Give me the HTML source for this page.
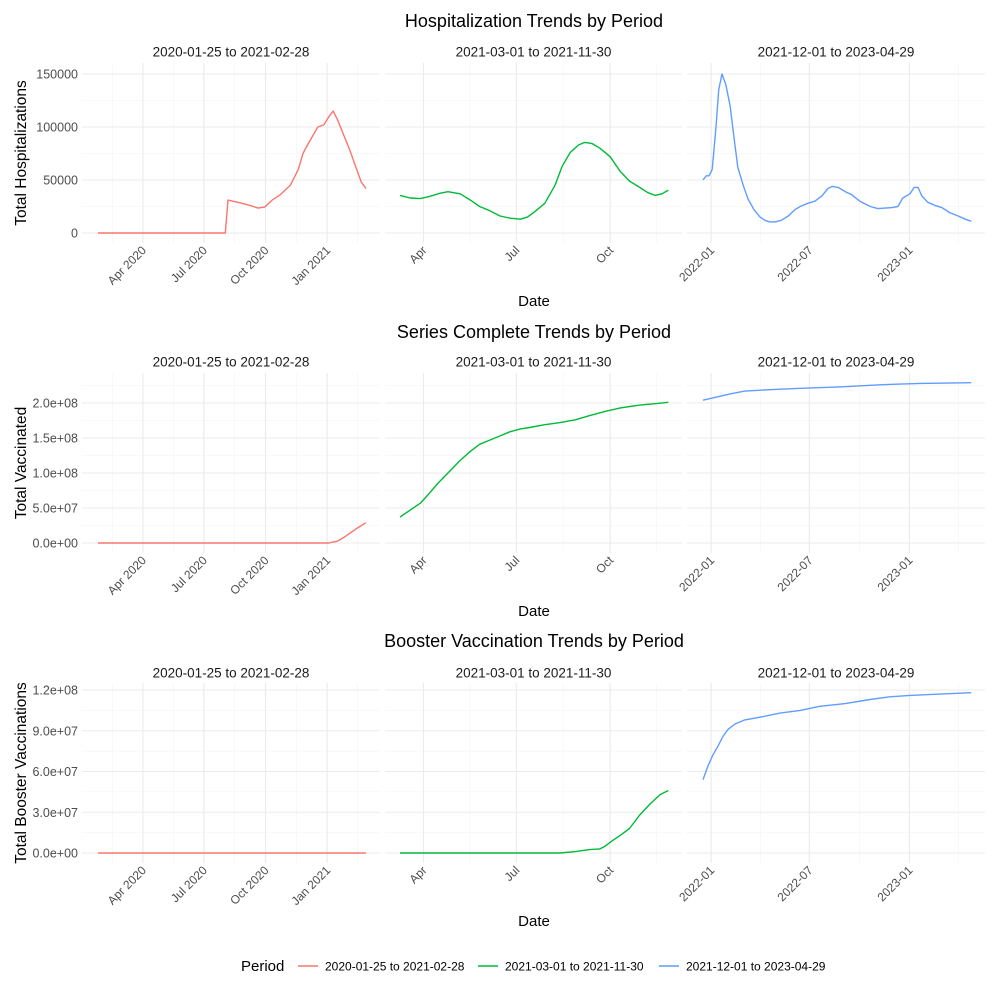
<!DOCTYPE html>
<html><head><meta charset="utf-8"><style>
body{margin:0;background:#fff;}
svg{font-family:"Liberation Sans",sans-serif;}
</style></head><body>
<svg id="chart" width="1000" height="1000" viewBox="0 0 1000 1000"></svg>
<script>
// Categories / panel periods
const periods = ["2020-01-25 to 2021-02-28","2021-03-01 to 2021-11-30","2021-12-01 to 2023-04-29"];
const rowTitles = ["Hospitalization Trends by Period","Series Complete Trends by Period","Booster Vaccination Trends by Period"];
const yTitles = ["Total Hospitalizations","Total Vaccinated","Total Booster Vaccinations"];
// x tick labels (day offsets from each panel's first data date)
const xTickDays1 = [67,158,250,342];
const xTickLabels1 = ["Apr 2020","Jul 2020","Oct 2020","Jan 2021"];
const xTickDays2 = [23,114,206];
const xTickLabels2 = ["Apr","Jul","Oct"];
const xTickDays3 = [15,196,380];
const xTickLabels3 = ["2022-01","2022-07","2023-01"];
// y ticks
const yTicksHosp = [0,50000,100000,150000];
const yLabelsHosp = ["0","50000","100000","150000"];
const yTicksVacc = [0,5e7,1e8,1.5e8,2e8];
const yLabelsVacc = ["0.0e+00","5.0e+07","1.0e+08","1.5e+08","2.0e+08"];
const yTicksBoost = [0,3e7,6e7,9e7,1.2e8];
const yLabelsBoost = ["0.0e+00","3.0e+07","6.0e+07","9.0e+07","1.2e+08"];
// Hospitalizations
const hospDays1 = [0,190,194,212,227,239,249,260,272,287,299,306,310,319,328,337,345,351,358,367,376,385,393,400];
const hospVals1 = [0,0,31000,28500,26000,23500,24500,31000,36000,45000,60000,75000,80000,90000,100000,102000,110000,115000,106000,92000,78000,62000,48000,42000];
const hospDays2 = [0,10,20,29,39,47,59,69,78,88,98,108,118,125,132,142,152,159,167,175,181,188,196,206,216,225,235,243,250,257,263];
const hospVals2 = [35500,33000,32500,34500,37500,39000,37000,31000,25000,21000,16000,14000,13000,15000,20000,28000,45000,63000,76000,83000,85500,84500,80000,72000,58000,49000,43000,38000,35500,37000,40500];
const hospDays3 = [0,6,11,17,24,29,35,42,50,57,64,74,83,94,105,114,123,133,144,157,169,179,193,206,219,230,238,249,262,274,289,308,322,335,348,359,368,381,389,396,403,414,427,440,455,470,483,494];
const hospVals3 = [50000,54000,54000,60000,100000,135000,150000,140000,120000,90000,62000,45000,32000,22000,15000,12000,10500,10500,12000,16000,22000,25000,28000,30000,35000,42000,44000,43000,39000,36000,30000,25000,23000,23500,24000,25000,33000,37000,43000,43000,35000,29000,26000,24000,19000,16000,13000,11000];
// Series complete
const vaccDays1 = [0,345,358,367,376,388,400];
const vaccVals1 = [0,0,3e6,8e6,14e6,22e6,29e6];
const vaccDays2 = [0,10,20,27,37,49,59,69,78,88,98,108,118,127,142,157,172,186,201,216,235,250,263];
const vaccVals2 = [37e6,47e6,57e6,68e6,85e6,103e6,118e6,131e6,141e6,147e6,153e6,159e6,163e6,165e6,169e6,172e6,176e6,182e6,188e6,193e6,197e6,199e6,201e6];
const vaccDays3 = [0,22,50,77,123,179,252,326,400,494];
const vaccVals3 = [204e6,208e6,213e6,217e6,219e6,221e6,223e6,226e6,228e6,229e6];
// Booster
const boostDays1 = [0,400];
const boostVals1 = [0,0];
const boostDays2 = [0,157,172,186,196,201,208,216,225,235,245,255,263];
const boostVals2 = [0,0,1e6,2.5e6,3e6,5e6,9e6,13e6,18e6,28e6,36e6,43e6,46e6];
const boostDays3 = [0,9,18,28,37,46,59,77,105,142,179,215,262,308,344,381,436,494];
const boostVals3 = [54e6,64e6,72e6,79e6,86e6,91e6,95e6,98e6,100e6,103e6,105e6,108e6,110e6,113e6,115e6,116e6,117e6,118e6];

const colors = ["#F8766D","#00BA38","#619CFF"];
const NS = "http://www.w3.org/2000/svg";
const svg = document.getElementById("chart");
function mk(tag, attrs, parent, text){
  const e = document.createElementNS(NS, tag);
  for (const k in attrs) e.setAttribute(k, attrs[k]);
  if (text !== undefined) e.textContent = text;
  (parent||svg).appendChild(e);
  return e;
}
const panelX = [[82,380],[385,682],[687,985]];
const dataX0 = [98,400,703];
const ppd = [0.67,1.02,0.543];
const xTickDays = [xTickDays1,xTickDays2,xTickDays3];
const xTickLabels = [xTickLabels1,xTickLabels2,xTickLabels3];
function xs(p, d){ return dataX0[p] + d*ppd[p]; }

const rows = [
  {top:63,bottom:243,zero:233,scale:53/50000,ticks:yTicksHosp,labels:yLabelsHosp,title:21,strip:52,date:301,
   days:[hospDays1,hospDays2,hospDays3],vals:[hospVals1,hospVals2,hospVals3],name:"hospitalization"},
  {top:373,bottom:553,zero:543,scale:35/5e7,ticks:yTicksVacc,labels:yLabelsVacc,title:332,strip:362,date:611,
   days:[vaccDays1,vaccDays2,vaccDays3],vals:[vaccVals1,vaccVals2,vaccVals3],name:"series-complete"},
  {top:683,bottom:863,zero:853,scale:40.75/3e7,ticks:yTicksBoost,labels:yLabelsBoost,title:641,strip:673,date:921,
   days:[boostDays1,boostDays2,boostDays3],vals:[boostVals1,boostVals2,boostVals3],name:"booster"}
];

rows.forEach((r,ri)=>{
  const ys = v => r.zero - v*r.scale;
  const g = mk("g",{});
  
  
  const t = mk("text",{x:534,y:r.title+6,"text-anchor":"middle","font-size":"18",fill:"#000"},g,rowTitles[ri]);
  
  
  const yt = mk("text",{x:0,y:0,"text-anchor":"middle","font-size":"15.5",fill:"#000",transform:`translate(26,${(r.top+r.bottom)/2}) rotate(-90)`},g,yTitles[ri]);
  
  
  const dt = mk("text",{x:534,y:r.date+5,"text-anchor":"middle","font-size":"15",fill:"#000"},g,"Date");
  
  
  r.ticks.forEach((v,i)=>{
    const lab = mk("text",{x:78,y:ys(v)+4.5,"text-anchor":"end","font-size":"12.5",fill:"#4d4d4d"},g,r.labels[i]);
    
    
  });
  for (let p=0;p<3;p++){
    const [l,rr] = panelX[p];
    const pg = mk("g",{},g);
    
    
    for (let i=0;i<r.ticks.length-1;i++){
      const ym = ys((r.ticks[i]+r.ticks[i+1])/2);
      mk("line",{x1:l,x2:rr,y1:ym,y2:ym,stroke:"#f3f3f3","stroke-width":0.6},pg);
    }
    const step = r.ticks[1]-r.ticks[0];
    const ytop = ys(r.ticks[r.ticks.length-1]+step/2);
    if (ytop>r.top) mk("line",{x1:l,x2:rr,y1:ytop,y2:ytop,stroke:"#f3f3f3","stroke-width":0.6},pg);
    const td = xTickDays[p];
    const dstep = td[1]-td[0];
    const mins = [td[0]-dstep/2];
    for (let i=0;i<td.length-1;i++) mins.push((td[i]+td[i+1])/2);
    mins.push(td[td.length-1]+dstep/2);
    mins.forEach(d=>{const x=xs(p,d); if(x>l&&x<rr) mk("line",{x1:x,x2:x,y1:r.top,y2:r.bottom,stroke:"#f3f3f3","stroke-width":0.6},pg);});
    r.ticks.forEach(v=>mk("line",{x1:l,x2:rr,y1:ys(v),y2:ys(v),stroke:"#ebebeb","stroke-width":1.1},pg));
    td.forEach((d,i)=>{
      const x=xs(p,d);
      mk("line",{x1:x,x2:x,y1:r.top,y2:r.bottom,stroke:"#ebebeb","stroke-width":1.1},pg);
      const lab = mk("text",{x:0,y:0,"text-anchor":"end","font-size":"12",fill:"#4d4d4d",transform:`translate(${x+4},${r.bottom+8}) rotate(-45)`},pg,xTickLabels[p][i]);
      
      
    });
    const st = mk("text",{x:(l+rr)/2,y:r.strip+4.5,"text-anchor":"middle","font-size":"13.5",fill:"#1a1a1a"},pg,periods[p]);
    
    
    const days = r.days[p], vals = r.vals[p];
    const pts = days.map((d,i)=>xs(p,d).toFixed(1)+","+ys(vals[i]).toFixed(1)).join(" ");
    const line = mk("polyline",{points:pts,fill:"none",stroke:colors[p],"stroke-width":1.4,"stroke-linejoin":"round"},pg);
    
    
  }
});
const lg = mk("g",{});


const lt = mk("text",{x:241,y:971,"font-size":"15",fill:"#000"},lg,"Period");


const legX = [298,478,659];
periods.forEach((p,i)=>{
  const eg = mk("g",{},lg);
  
  
  mk("line",{x1:legX[i],x2:legX[i]+20,y1:966,y2:966,stroke:colors[i],"stroke-width":1.4},eg);
  mk("text",{x:legX[i]+27,y:970.5,"font-size":"12",fill:"#000"},eg,p);
});
</script>
</body></html>
